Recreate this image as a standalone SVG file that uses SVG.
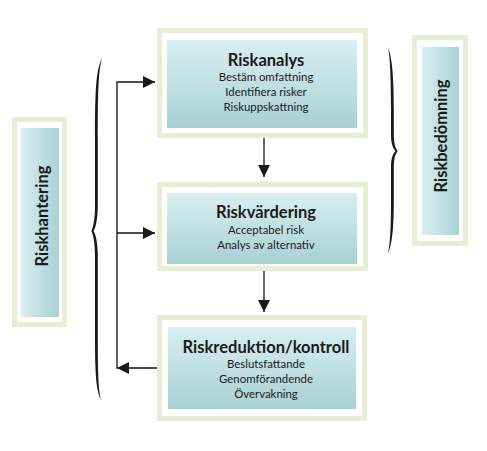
<svg xmlns="http://www.w3.org/2000/svg" width="487" height="451" viewBox="0 0 487 451">
<defs>
<linearGradient id="gv" x1="0" y1="0" x2="0" y2="1">
<stop offset="0" stop-color="#d9eff1"/>
<stop offset="1" stop-color="#a9d1d4"/>
</linearGradient>
<linearGradient id="gh" x1="0" y1="0" x2="1" y2="0">
<stop offset="0" stop-color="#d9eff1"/>
<stop offset="1" stop-color="#a9d1d4"/>
</linearGradient>
<marker id="ah" markerUnits="userSpaceOnUse" markerWidth="12" markerHeight="12" refX="12" refY="6" orient="auto">
<path d="M0,0 L12,6 L0,12 Z" fill="#1a1a1a"/>
</marker>
<style>
.frame{fill:#ffffff;stroke:#e6efd6;stroke-width:5}
.title{font-family:Lato,"Liberation Sans",sans-serif;font-weight:bold;font-size:16.5px;fill:#1a1a1a;text-anchor:middle}
.body{font-family:Lato,"Liberation Sans",sans-serif;font-size:11.4px;fill:#1a1a1a;text-anchor:middle}
.conn{fill:none;stroke:#111;stroke-width:1.3}
.brace{fill:#1a1a1a}
</style>
</defs>
<rect width="487" height="451" fill="#ffffff"/>

<g id="riskhantering">
<rect class="frame" x="14.5" y="119.5" width="50" height="205"/>
<rect x="21" y="128" width="38" height="189" fill="url(#gh)"/>
<text class="title" transform="translate(48,216) rotate(-90)">Riskhantering</text>
</g>

<g id="riskbedomning">
<rect class="frame" x="414.5" y="37.5" width="51" height="206"/>
<rect x="422" y="47" width="37" height="188" fill="url(#gh)"/>
<text class="title" transform="translate(447,136) rotate(-90)">Riskbedömning</text>
</g>

<g id="riskanalys">
<rect class="frame" x="159.5" y="30.5" width="206" height="105"/>
<rect x="167" y="40" width="190" height="88" fill="url(#gv)"/>
<text class="title" x="266" y="66">Riskanalys</text>
<text class="body" x="266" y="80.5">Bestäm omfattning</text>
<text class="body" x="266" y="95.5">Identifiera risker</text>
<text class="body" x="266" y="110.5">Riskuppskattning</text>
</g>

<g id="riskvardering">
<rect class="frame" x="159.5" y="184.5" width="206" height="84"/>
<rect x="167" y="193" width="190" height="71" fill="url(#gv)"/>
<text class="title" x="266" y="218">Riskvärdering</text>
<text class="body" x="266" y="234">Acceptabel risk</text>
<text class="body" x="266" y="249">Analys av alternativ</text>
</g>

<g id="riskreduktion">
<rect class="frame" x="159.5" y="317.5" width="205" height="101"/>
<rect x="168" y="327" width="188" height="82" fill="url(#gv)"/>
<text class="title" x="266" y="353">Riskreduktion/kontroll</text>
<text class="body" x="266" y="367.5">Beslutsfattande</text>
<text class="body" x="266" y="383">Genomförandende</text>
<text class="body" x="266" y="398">Övervakning</text>
</g>

<g id="braces">
<path class="brace" d="M102,58 C96,70 95,90 95,140 L95,205 C95,220 93,228 91.3,231 C93,234 95,242 95,257 L95,340 C95,380 97,392 101,400 C99,392 97.8,380 97.8,340 L97.8,257 C97.8,242 95.5,234 93.5,231 C95.5,228 97.8,220 97.8,205 L97.8,140 C97.8,90 98.5,70 102,58 Z"/>
<path class="brace" d="M388,47 C392,58 393.8,75 393.8,110 L393.8,135 C393.8,144 395.5,148 397.6,151 C395.5,154 393.8,158 393.8,167 L393.8,200 C393.8,230 392,244 388,254 C390,244 391,230 391,200 L391,167 C391,158 393,154 395.4,151 C393,148 391,144 391,135 L391,110 C391,75 390,58 388,47 Z"/>
</g>

<g id="connectors">
<path class="conn" d="M264,138 L264,177" marker-end="url(#ah)"/>
<path class="conn" d="M264,271 L264,312" marker-end="url(#ah)"/>
<path class="conn" d="M157,368 L117,368 L117,82 L155,82" marker-end="url(#ah)"/>
<path class="conn" d="M117,233 L155,233" marker-end="url(#ah)"/>
<path d="M117,368 L129,362 L129,374 Z" fill="#1a1a1a"/>
</g>
</svg>
